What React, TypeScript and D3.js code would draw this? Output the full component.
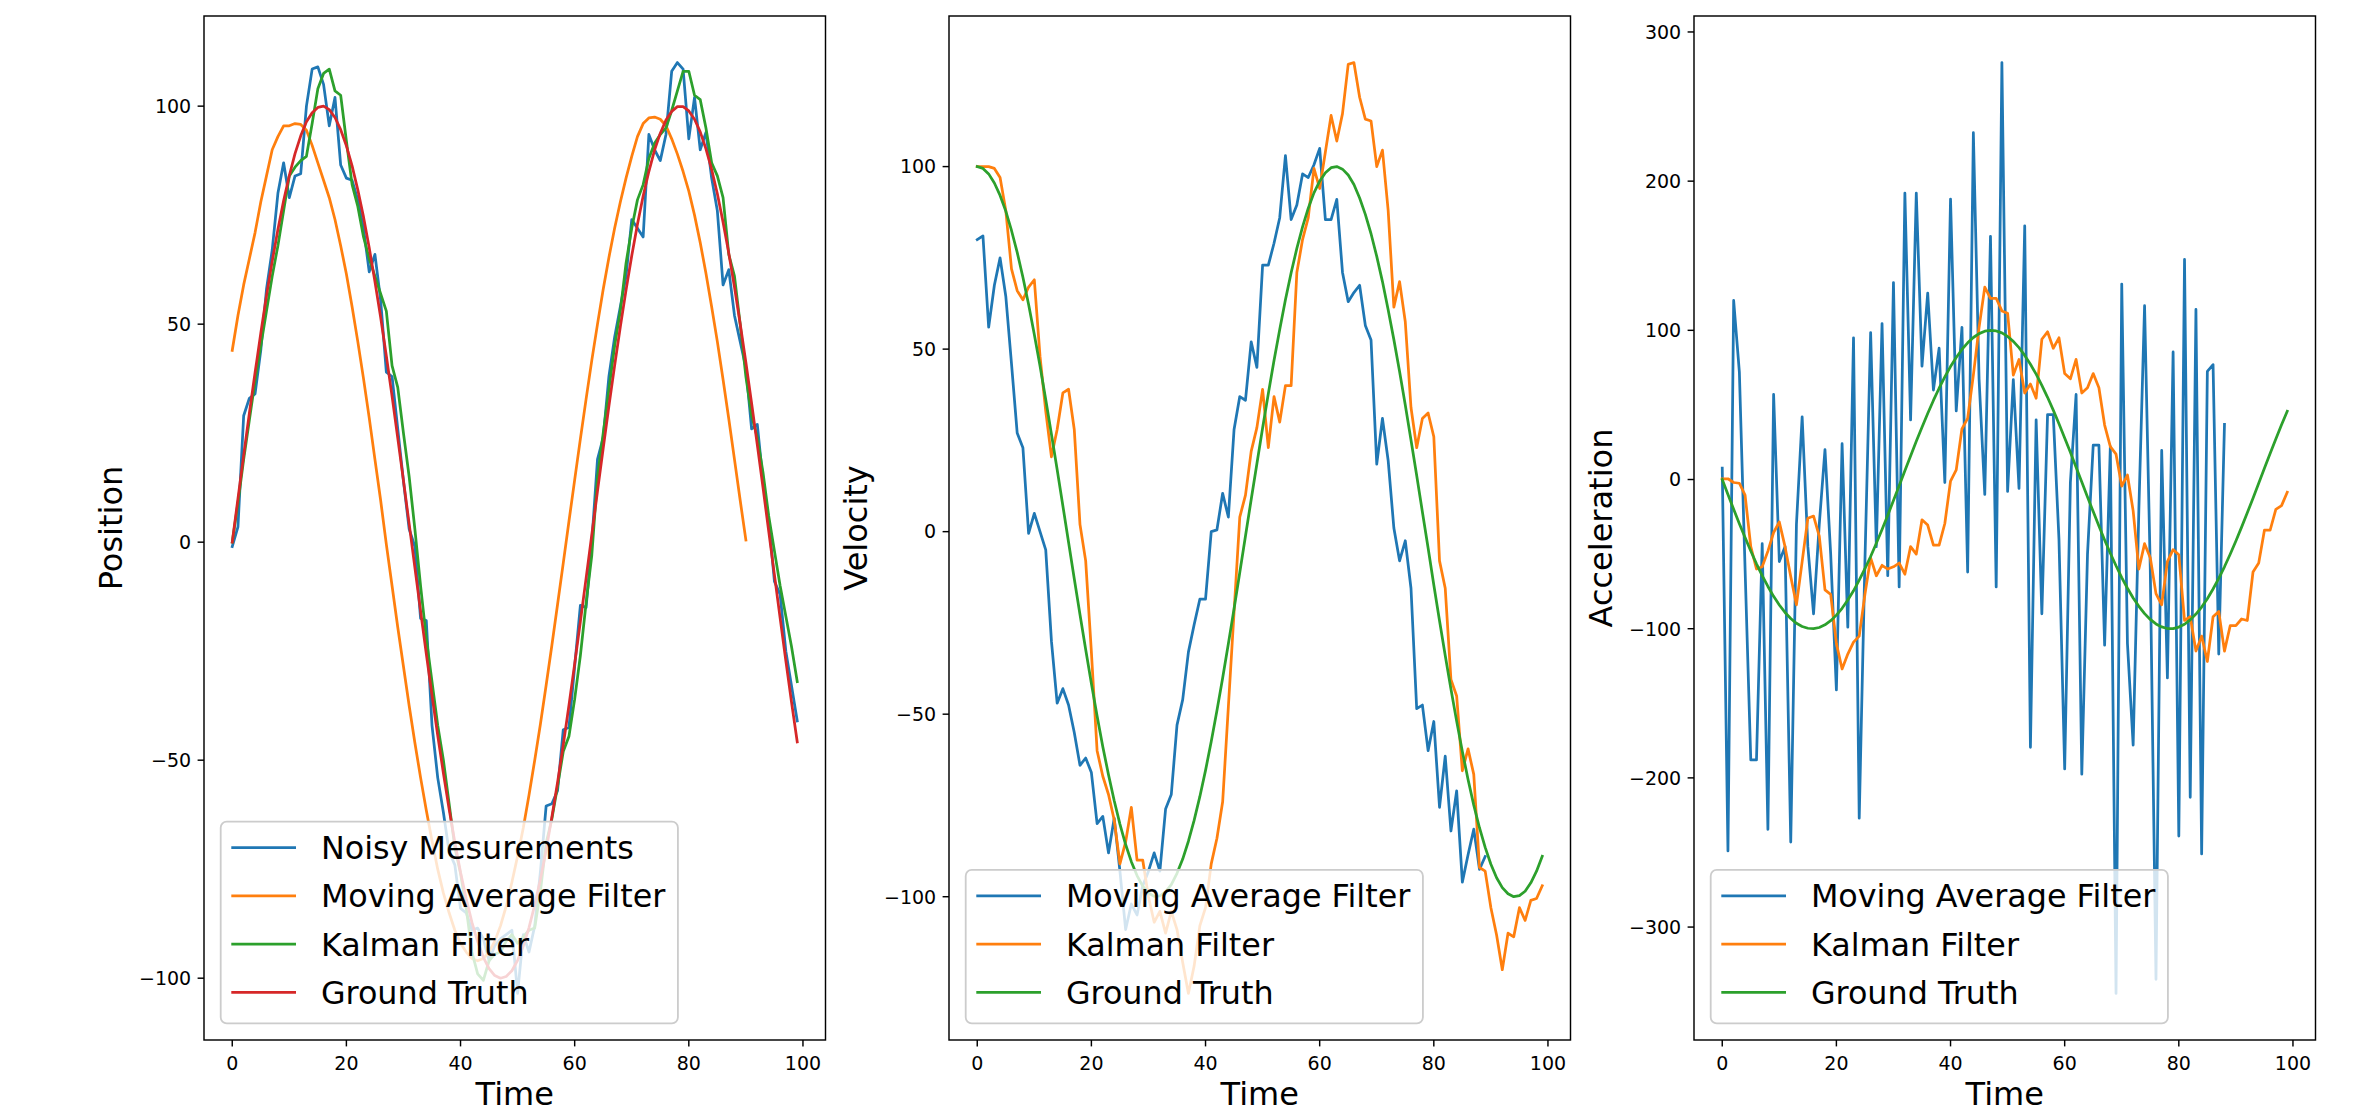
import React from 'react';
import * as d3 from 'd3';

// time steps 0..99 (the x value of every sample)
const time = d3.range(100);
const xTicks = [0, 20, 40, 60, 80, 100];
const positionTicks = [-100, -50, 0, 50, 100];
const velocityTicks = [-100, -50, 0, 50, 100];
const accelerationTicks = [-300, -200, -100, 0, 100, 200, 300];

// --- position panel ---
const positionNoisy = [
  -1, 3.5, 29, 33, 34, 44, 58, 67, 80, 87,
  79, 84, 84.5, 100, 108.5, 109, 105, 95.5, 102, 86.5,
  83.5, 83, 78.5, 72, 62, 66, 55.5, 39, 38, 26,
  14, 3, -1, -17.5, -18, -42, -54, -62, -71, -74,
  -84, -85, -89, -88.5, -91, -96, -92.5, -91, -90, -89,
  -103.5, -90, -94, -88, -75.5, -60.5, -60, -57, -43, -42.5,
  -28.5, -14.5, -15, 0, 19, 24, 38, 47, 54, 61,
  74, 72, 70, 93.5, 90, 87.5, 93.5, 108, 110, 108.5,
  92.5, 102, 90, 94, 83.5, 76, 59, 62.5, 52, 46,
  40, 26, 27, 14, 5, -9, -12, -25, -33, -41,
];
const positionMovingAvg = [
  44, 52, 59, 65, 71, 78, 84, 90, 93, 95.5,
  95.5, 96, 95.8, 94.5, 91, 87, 83, 79, 74, 68,
  61.5, 54, 46, 37.5, 28.5, 19, 9.6, -0.5, -10, -19.5,
  -28.5, -37.5, -46, -54, -61.5, -68.5, -75, -80.5, -85, -89,
  -92, -94, -95.5, -96, -95.5, -94, -91.5, -88, -83.5, -78,
  -72, -65.5, -58, -50, -41.7, -32.8, -23.7, -14.3, -4.8, 4.8,
  14.3, 23.7, 32.8, 41.7, 50, 58, 65.3, 72, 78, 83.5,
  88.5, 93, 96, 97.3, 97.5, 97, 95.5, 92.5, 89, 85,
  80.5, 75, 68.7, 61.7, 54, 46, 37.3, 28.3, 19, 9.6, 0.5,
];
const positionKalman = [
  0, 9, 19, 28, 37, 45, 53, 61, 68, 76,
  84, 86, 87.5, 88.5, 96, 104, 107.5, 108.5, 103.5, 102.5,
  92, 82, 77, 70, 65, 61, 57, 53, 40.5, 35.5,
  25, 15, 3, -10, -22, -32, -42, -50, -60, -70,
  -76, -84, -94, -99, -100.5, -96, -94.5, -94, -91.5, -90,
  -92, -90.5, -89, -88.5, -80, -69, -63.5, -56, -48, -44.5,
  -36, -26, -14, -3, 15, 25, 35, 45, 53, 64,
  72, 78.5, 82, 88, 91.5, 93.5, 95, 99, 103.5, 108,
  108, 102.5, 101.5, 95, 87, 84, 79, 66, 61, 50,
  38, 29, 24, 16, 6, -2, -10, -17, -24, -32,
];
const positionTruth = [
  0, 10.0, 19.9, 29.6, 38.9, 47.9, 56.5, 64.4, 71.7, 78.3,
  84.1, 89.1, 93.2, 96.4, 98.5, 99.7, 100.0, 99.2, 97.4, 94.6,
  90.9, 86.3, 80.8, 74.6, 67.5, 59.8, 51.6, 42.7, 33.5, 23.9,
  14.1, 4.2, -5.8, -15.8, -25.6, -35.1, -44.3, -53.0, -61.2, -68.8,
  -75.7, -81.8, -87.2, -91.6, -95.2, -97.8, -99.4, -100.0, -99.6, -98.3,
  -95.9, -92.6, -88.4, -83.2, -77.3, -70.6, -63.1, -55.1, -46.5, -37.4,
  -27.9, -18.2, -8.3, 1.7, 11.7, 21.5, 31.2, 40.5, 49.4, 57.8,
  65.7, 72.9, 79.4, 85.0, 89.9, 93.8, 96.8, 98.8, 99.9, 99.9,
  98.9, 97.0, 94.1, 90.2, 85.5, 79.9, 73.4, 66.3, 58.5, 50.1,
  41.2, 31.9, 22.3, 12.5, 2.5, -7.5, -17.4, -27.2, -36.7, -45.8,
];

// --- velocity panel ---
const velocityMovingAvg = [
  80, 81, 56, 67.5, 75, 64.5, 46, 27, 23, -0.5,
  5, 0, -5, -30, -47, -43, -47.5, -55, -64, -62,
  -66, -80, -78, -88, -78.5, -93, -109, -102, -105, -97,
  -93, -88, -93, -76, -72, -53, -46, -33, -25.5, -18.5,
  -18.5, 0, 0.5, 10.5, 4, 28, 37, 36, 52, 45,
  73, 73, 79, 86, 103, 85.5, 89.5, 98, 97, 100.5,
  105, 85.5, 85.5, 91, 71, 63, 65.5, 67.5, 56.5, 52.5,
  18.5, 31, 19.5, 1, -8, -2.5, -15.5, -48.5, -47.5, -60,
  -52, -75.5, -61.5, -82, -71, -96, -88.5, -81.5, -92.5, -89,
];
const velocityKalman = [
  100, 100, 100, 99.5, 97, 88, 72, 66, 63.5, 67,
  69, 48, 33, 20.5, 28, 38, 39, 28, 2, -8,
  -33, -60, -67, -72, -79, -91, -85, -75.5, -90, -90,
  -100, -107, -104, -110, -104, -109, -118, -126.5, -119, -108,
  -103, -91, -84, -74, -48, -22, 4, 10, 22, 28.5,
  39, 23, 37, 30, 40, 40, 71, 80, 86, 99.5,
  94, 104, 114, 107, 114.5, 128, 128.5, 119, 113, 112.5,
  100, 104.5, 88, 61.5, 68.5, 57.5, 34, 23, 31, 32.5,
  26, -8, -15.5, -40.5, -45, -65.5, -59.5, -66.5, -92, -93,
  -103, -110.5, -120, -110, -111, -103, -106.5, -101, -100.5, -97,
];
const velocityTruth = [
  100, 99.5, 98.0, 95.5, 92.1, 87.8, 82.5, 76.5, 69.7, 62.2,
  54.0, 45.4, 36.2, 26.7, 17.0, 7.1, -2.9, -12.9, -22.7, -32.3,
  -41.6, -50.5, -58.9, -66.6, -73.7, -80.1, -85.7, -90.4, -94.2, -97.1,
  -99.0, -99.9, -99.8, -98.7, -96.7, -93.6, -89.7, -84.8, -79.1, -72.6,
  -65.4, -57.5, -49.0, -40.1, -30.7, -21.1, -11.2, -1.2, 8.8, 18.6,
  28.4, 37.8, 46.9, 55.4, 63.5, 70.9, 77.6, 83.5, 88.6, 92.8,
  96.0, 98.3, 99.7, 100.0, 99.3, 97.7, 95.1, 91.4, 86.9, 81.6,
  75.4, 68.5, 60.8, 52.6, 43.9, 34.7, 25.1, 15.4, 5.4, -4.5,
  -14.6, -24.4, -33.9, -43.1, -51.9, -60.2, -67.9, -74.9, -81.1, -86.5,
  -91.1, -94.8, -97.5, -99.2, -100.0, -99.7, -98.5, -96.2, -93.0, -88.9,
];

// --- acceleration panel ---
const accelerationMovingAvg = [
  7.7, -249, 120, 72, -60, -188, -188, -43, -234.5, 57,
  -55, -45, -243, -30, 42, -45, -90, -30, 20, -50,
  -141, 24, -99, 95, -227, -55, 98.5, -45, 104.5, -64.5,
  132, -72, 192, 40, 192, 76, 125, 60, 88, -2,
  188, 46, 102, -62, 232.5, 67.5, -10, 163, -72, 279.5,
  -8, 67, -6, 170, -179.5, 40, -90, 43.5, 43.5, -40,
  -194, -2, 57, -197.5, -50, 23, 23, -111, 22, -344.5,
  131, -110, -178, -20, 116.5, -60, -335, 19.5, -133, 85.5,
  -239, 147.5, -213, 114, -251, 72.5, 77, -117, 37,
];
const accelerationKalman = [
  0.5, 0.5, -2, -2.5, -10.5, -45, -60, -58.5, -48, -35.5,
  -28.5, -45, -65, -84, -55, -26, -24.5, -38, -74, -77,
  -110, -127, -117, -109, -105, -77, -52.5, -64.5, -57.5, -60,
  -58.5, -56, -63.5, -45, -50, -27, -30.5, -44, -44, -29.5,
  -1, 6.5, 34, 41, 70, 102, 129, 121.5, 121.5, 113,
  111.5, 70, 80.5, 58, 64, 54.5, 94, 99, 88, 95,
  71, 67.5, 80.5, 58, 61.5, 71, 61.5, 36.5, 22, 17,
  -4.5, 3, -21, -60, -43, -52.5, -76.5, -84, -55, -47,
  -50.5, -94.5, -92, -115, -105, -122, -92, -88.5, -115, -98,
  -98, -93.5, -94.5, -62, -56, -34, -34, -20, -17.5, -8.5,
];
const accelerationTruth = [
  0, -10.0, -19.9, -29.6, -38.9, -47.9, -56.5, -64.4, -71.7, -78.3,
  -84.1, -89.1, -93.2, -96.4, -98.5, -99.7, -100.0, -99.2, -97.4, -94.6,
  -90.9, -86.3, -80.8, -74.6, -67.5, -59.8, -51.6, -42.7, -33.5, -23.9,
  -14.1, -4.2, 5.8, 15.8, 25.6, 35.1, 44.3, 53.0, 61.2, 68.8,
  75.7, 81.8, 87.2, 91.6, 95.2, 97.8, 99.4, 100.0, 99.6, 98.3,
  95.9, 92.6, 88.4, 83.2, 77.3, 70.6, 63.1, 55.1, 46.5, 37.4,
  27.9, 18.2, 8.3, -1.7, -11.7, -21.5, -31.2, -40.5, -49.4, -57.8,
  -65.7, -72.9, -79.4, -85.0, -89.9, -93.8, -96.8, -98.8, -99.9, -99.9,
  -98.9, -97.0, -94.1, -90.2, -85.5, -79.9, -73.4, -66.3, -58.5, -50.1,
  -41.2, -31.9, -22.3, -12.5, -2.5, 7.5, 17.4, 27.2, 36.7, 45.8,
];

const BLUE = '#1f77b4';
const ORANGE = '#ff7f0e';
const GREEN = '#2ca02c';
const RED = '#d62728';

const W = 2358;
const H = 1117;
const TOP = 16;
const BOTTOM = 1040;
const PANEL_W = 621.5;
const FONT = '"DejaVu Sans", sans-serif';
const TICK_FS = 19;
const LABEL_FS = 32;
const LEGEND_FS = 31.8;

type Series = { label: string; values: number[]; color: string };

const fmt = (d: number) => (d < 0 ? '\u2212' + Math.abs(d) : String(d));

let ctx: CanvasRenderingContext2D | null = null;
function textWidth(s: string, size: number) {
  if (!ctx) ctx = document.createElement('canvas').getContext('2d');
  if (!ctx) return s.length * size * 0.55;
  ctx.font = `${size}px "DejaVu Sans"`;
  return ctx.measureText(s).width;
}

function Panel({ id, left, series, yLabel, yTicks }: { id: string; left: number; series: Series[]; yLabel: string; yTicks: number[] }) {
  // matplotlib-style autoscale: data extent plus 5% on each side
  const [x0, x1] = d3.extent(time) as [number, number];
  const xPad = (x1 - x0) * 0.05;
  const x = d3.scaleLinear().domain([x0 - xPad, x1 + xPad]).range([left, left + PANEL_W]);
  const [lo, hi] = d3.extent(series.flatMap((s) => s.values)) as [number, number];
  const yPad = (hi - lo) * 0.05;
  const y = d3.scaleLinear().domain([lo - yPad, hi + yPad]).range([BOTTOM, TOP]);
  const line = d3.line<number>().x((_, i) => x(time[i])).y((d) => y(d));

  // legend, lower left
  const maxW = d3.max(series, (s) => textWidth(s.label, LEGEND_FS)) || 0;
  const boxX = left + 16.7;
  const boxH = 26 + (series.length - 1) * 48.2 + 31;
  const boxY = BOTTOM - 16.7 - boxH;
  const boxW = 100.2 + maxW + 12.6;

  return (
    <g>
      <defs>
        <clipPath id={id}>
          <rect x={left} y={TOP} width={PANEL_W} height={BOTTOM - TOP} />
        </clipPath>
      </defs>
      <g clipPath={`url(#${id})`}>
        {series.map((s) => (
          <path key={s.label} d={line(s.values) || ''} fill="none" stroke={s.color}
            strokeWidth={2.75} strokeLinejoin="round" strokeLinecap="square" />
        ))}
      </g>

      {/* legend */}
      <rect x={boxX} y={boxY} width={boxW} height={boxH} rx={6} ry={6}
        fill="#ffffff" fillOpacity={0.8} stroke="#cccccc" strokeWidth={1.8} />
      {series.map((s, i) => {
        const cy = boxY + 26 + i * 48.2;
        return (
          <g key={'lg' + s.label}>
            <line x1={boxX + 10.6} x2={boxX + 75.3} y1={cy} y2={cy} stroke={s.color} strokeWidth={2.75} />
            <text x={boxX + 100.2} y={cy} dy="0.36em" fontSize={LEGEND_FS} fontFamily={FONT} fill="#000">{s.label}</text>
          </g>
        );
      })}

      {/* frame */}
      <rect x={left} y={TOP} width={PANEL_W} height={BOTTOM - TOP} fill="none" stroke="#000" strokeWidth={1.45} />

      {/* x axis */}
      {xTicks.map((t) => (
        <g key={'x' + t}>
          <line x1={x(t)} x2={x(t)} y1={BOTTOM} y2={BOTTOM + 6.4} stroke="#000" strokeWidth={1.45} />
          <text x={x(t)} y={1070} textAnchor="middle" fontSize={TICK_FS} fontFamily={FONT} fill="#000">{fmt(t)}</text>
        </g>
      ))}
      <text x={left + PANEL_W / 2} y={1105} textAnchor="middle" fontSize={LABEL_FS} fontFamily={FONT} fill="#000">Time</text>

      {/* y axis */}
      {yTicks.map((t) => (
        <g key={'y' + t}>
          <line x1={left - 6.4} x2={left} y1={y(t)} y2={y(t)} stroke="#000" strokeWidth={1.45} />
          <text x={left - 12.8} y={y(t)} dy="0.36em" textAnchor="end" fontSize={TICK_FS} fontFamily={FONT} fill="#000">{fmt(t)}</text>
        </g>
      ))}
      <text transform={`translate(${left - 82},${(TOP + BOTTOM) / 2}) rotate(-90)`} textAnchor="middle"
        fontSize={LABEL_FS} fontFamily={FONT} fill="#000">{yLabel}</text>
    </g>
  );
}

export default function App() {
  return (
    <div style={{ position: 'absolute', left: 0, top: 0, background: '#fff' }}>
      <svg width={W} height={H} viewBox={`0 0 ${W} ${H}`} style={{ display: 'block' }}>
        <rect width={W} height={H} fill="#fff" />
        <Panel id="clip-pos" left={204} yLabel="Position" yTicks={positionTicks} series={[
          { label: 'Noisy Mesurements', values: positionNoisy, color: BLUE },
          { label: 'Moving Average Filter', values: positionMovingAvg, color: ORANGE },
          { label: 'Kalman Filter', values: positionKalman, color: GREEN },
          { label: 'Ground Truth', values: positionTruth, color: RED },
        ]} />
        <Panel id="clip-vel" left={949} yLabel="Velocity" yTicks={velocityTicks} series={[
          { label: 'Moving Average Filter', values: velocityMovingAvg, color: BLUE },
          { label: 'Kalman Filter', values: velocityKalman, color: ORANGE },
          { label: 'Ground Truth', values: velocityTruth, color: GREEN },
        ]} />
        <Panel id="clip-acc" left={1694} yLabel="Acceleration" yTicks={accelerationTicks} series={[
          { label: 'Moving Average Filter', values: accelerationMovingAvg, color: BLUE },
          { label: 'Kalman Filter', values: accelerationKalman, color: ORANGE },
          { label: 'Ground Truth', values: accelerationTruth, color: GREEN },
        ]} />
      </svg>
    </div>
  );
}
